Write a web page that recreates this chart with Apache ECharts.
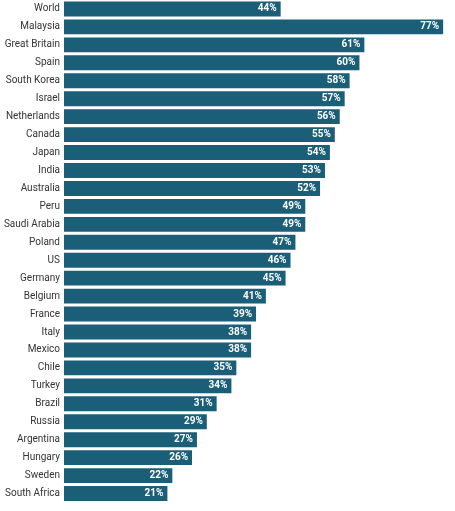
<!DOCTYPE html>
<html><head><meta charset="utf-8">
<script src="https://cdn.jsdelivr.net/npm/echarts@6/dist/echarts.min.js"></script>
<style>html,body{margin:0;background:#fff}#c{width:455px;height:511px}</style>
</head><body><div id="c"></div>
<script>
var countries = ['World','Malaysia','Great Britain','Spain','South Korea','Israel','Netherlands','Canada','Japan','India','Australia','Peru','Saudi Arabia','Poland','US','Germany','Belgium','France','Italy','Mexico','Chile','Turkey','Brazil','Russia','Argentina','Hungary','Sweden','South Africa'];
var values = [44,77,61,60,58,57,56,55,54,53,52,49,49,47,46,45,41,39,38,38,35,34,31,29,27,26,22,21];

var chart = echarts.init(document.getElementById('c'));
chart.setOption({
  animation: false,
  grid: { left: 64, right: 2, top: -1.5, height: 504, containLabel: false },
  xAxis: { type: 'value', min: 0, max: 79, show: false },
  yAxis: {
    type: 'category', inverse: true, data: countries,
    axisLine: { show: false }, axisTick: { show: false },
    axisLabel: { color: '#333', fontSize: 10, fontFamily: 'Roboto', margin: 4 }
  },
  series: [{
    type: 'bar', data: values, barCategoryGap: '17%',
    itemStyle: { color: '#1b5e78' },
    label: {
      show: true, position: 'insideRight', formatter: '{c}%',
      color: '#fff', fontWeight: 'bold', fontSize: 10, fontFamily: 'Roboto', offset: [1, 0]
    }
  }]
});
</script></body></html>
